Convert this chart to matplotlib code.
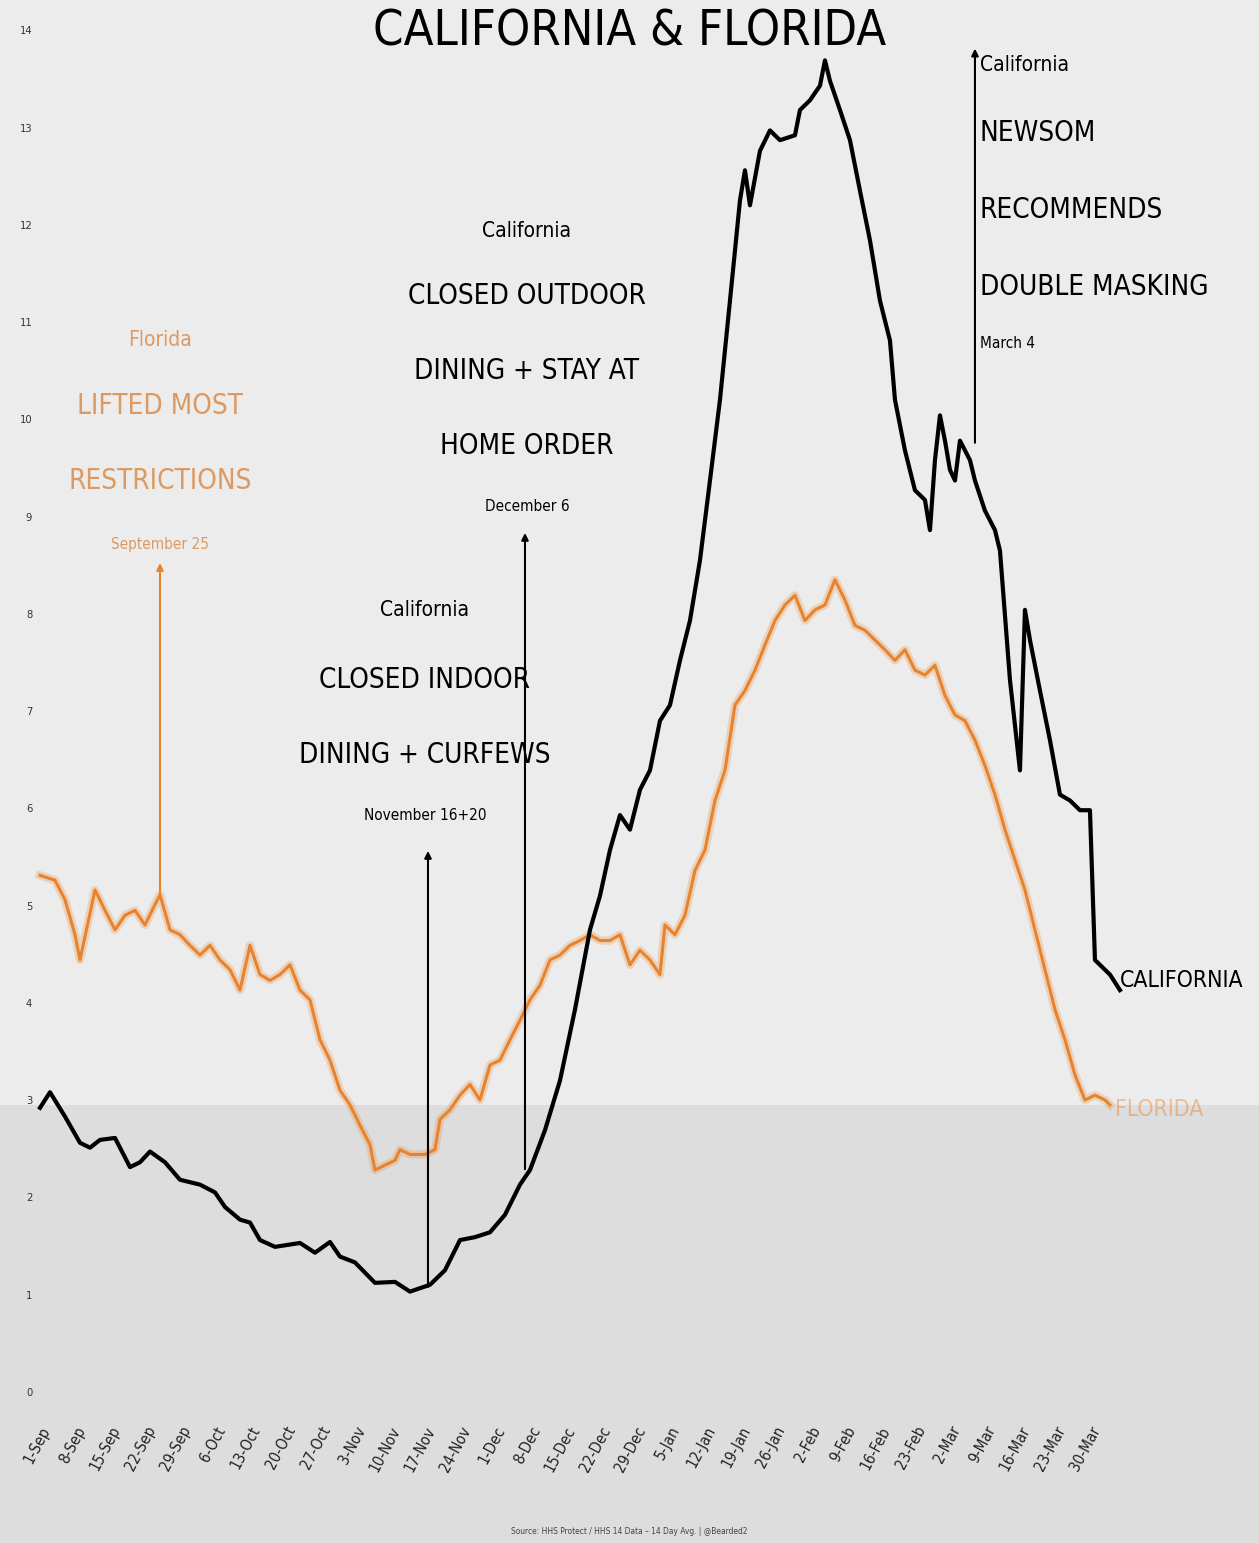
import matplotlib
matplotlib.use("Agg")
import matplotlib.pyplot as plt
from matplotlib.patches import Rectangle

# days counted from 1-Sep-2020
ca_days = [0, 2, 5, 8, 10, 12, 15, 18, 20, 22, 25, 28, 32, 35, 37, 40, 42, 44, 47, 52,
           55, 58, 60, 63, 67, 71, 74, 78, 81, 84, 87, 90, 93, 96, 98, 101, 104, 107, 110, 112,
           114, 116, 118, 120, 122, 124, 126, 128, 130, 132, 134, 136, 138, 140, 141, 142, 144, 146, 148, 151,
           152, 154, 156, 157, 158, 160, 162, 164, 166, 168, 170, 171, 173, 175, 177, 178, 179, 180, 181, 182,
           183, 184, 186, 187, 189, 191, 192, 194, 196, 197, 198, 200, 202, 204, 206, 208, 210, 211, 212, 214, 216]
ca_vals = [2.92, 3.08, 2.83, 2.56, 2.51, 2.59, 2.61, 2.31, 2.36, 2.47, 2.36, 2.18, 2.13, 2.05, 1.90, 1.77, 1.74, 1.56, 1.49, 1.53,
           1.43, 1.54, 1.39, 1.33, 1.12, 1.13, 1.03, 1.10, 1.25, 1.56, 1.59, 1.64, 1.82, 2.13, 2.28, 2.69, 3.20, 3.93, 4.75, 5.10,
           5.57, 5.93, 5.78, 6.19, 6.39, 6.90, 7.06, 7.52, 7.93, 8.55, 9.37, 10.20, 11.22, 12.25, 12.56, 12.20, 12.76, 12.97, 12.87, 12.92,
           13.18, 13.28, 13.43, 13.69, 13.48, 13.18, 12.87, 12.35, 11.84, 11.22, 10.81, 10.20, 9.68, 9.27, 9.17, 8.86, 9.58, 10.04, 9.78, 9.48,
           9.37, 9.78, 9.58, 9.37, 9.06, 8.86, 8.65, 7.32, 6.39, 8.04, 7.73, 7.21, 6.70, 6.14, 6.08, 5.98, 5.98, 4.44, 4.39, 4.29, 4.13]

fl_days = [0, 3, 5, 7, 8, 11, 13, 15, 17, 19, 21, 23, 24, 26, 28, 30, 32, 34, 36, 38,
           40, 42, 44, 46, 48, 50, 52, 54, 56, 58, 60, 62, 64, 66, 67, 69, 71, 72, 74, 77,
           79, 80, 82, 84, 86, 88, 90, 92, 94, 96, 98, 100, 102, 104, 106, 108, 110, 112, 114, 116,
           118, 120, 122, 124, 125, 127, 129, 131, 133, 135, 137, 139, 141, 143, 145, 147, 149, 151, 153, 155,
           157, 159, 161, 163, 165, 167, 169, 171, 173, 175, 177, 179, 181, 183, 185, 187, 189, 191, 193, 195,
           197, 199, 201, 203, 205, 207, 209, 211, 213, 214]
fl_vals = [5.31, 5.26, 5.06, 4.70, 4.44, 5.16, 4.95, 4.75, 4.90, 4.95, 4.80, 5.01, 5.11, 4.75, 4.70, 4.59, 4.49, 4.59, 4.44, 4.34,
           4.13, 4.59, 4.29, 4.23, 4.29, 4.39, 4.13, 4.03, 3.62, 3.41, 3.10, 2.95, 2.74, 2.54, 2.28, 2.33, 2.38, 2.49, 2.44, 2.44,
           2.49, 2.80, 2.90, 3.05, 3.16, 3.00, 3.36, 3.41, 3.62, 3.82, 4.03, 4.18, 4.44, 4.49, 4.59, 4.64, 4.70, 4.64, 4.64, 4.70,
           4.39, 4.54, 4.44, 4.29, 4.80, 4.70, 4.90, 5.36, 5.57, 6.08, 6.39, 7.06, 7.21, 7.42, 7.68, 7.93, 8.09, 8.19, 7.93, 8.04,
           8.09, 8.35, 8.14, 7.88, 7.83, 7.73, 7.63, 7.52, 7.63, 7.42, 7.37, 7.47, 7.16, 6.96, 6.90, 6.70, 6.44, 6.14, 5.78, 5.47,
           5.16, 4.75, 4.34, 3.93, 3.62, 3.26, 3.00, 3.05, 3.00, 2.95]

tick_labels = ["1-Sep", "8-Sep", "15-Sep", "22-Sep", "29-Sep", "6-Oct", "13-Oct", "20-Oct", "27-Oct",
               "3-Nov", "10-Nov", "17-Nov", "24-Nov", "1-Dec", "8-Dec", "15-Dec", "22-Dec", "29-Dec",
               "5-Jan", "12-Jan", "19-Jan", "26-Jan", "2-Feb", "9-Feb", "16-Feb", "23-Feb",
               "2-Mar", "9-Mar", "16-Mar", "23-Mar", "30-Mar"]
tick_days = [7 * i for i in range(len(tick_labels))]

ORANGE = "#e8832c"
plt.rcParams["font.family"] = ["DejaVu Sans"]
plt.rcParams["font.stretch"] = "condensed"

fig = plt.figure(figsize=(12.59, 15.43), dpi=100)
fig.patch.set_facecolor("#ececec")
# darker band at the bottom of the picture
fig.add_artist(Rectangle((0, 0), 1, 0.284, transform=fig.transFigure,
                         facecolor="#dddddd", edgecolor="none", zorder=-5))

ax = fig.add_axes([0.0278, 0.0791, 0.8697, 0.9202])
ax.set_facecolor("none")
ax.set_xlim(-1, 218)
ax.set_ylim(-0.3, 14.3)
for s in ax.spines.values():
    s.set_visible(False)

ax.set_yticks(range(0, 15))
ax.set_yticklabels([str(i) for i in range(0, 15)], fontsize=8, color="#333333")
ax.set_xticks(tick_days)
ax.set_xticklabels(tick_labels, rotation=62, ha="right", va="top", rotation_mode="anchor",
                   fontsize=11, color="#222222")
ax.tick_params(length=0, pad=2)

# lines
ax.plot(fl_days, fl_vals, color=ORANGE, lw=6, alpha=0.25, solid_joinstyle="round")
ax.plot(fl_days, fl_vals, color=ORANGE, lw=2.2, solid_joinstyle="round")
ax.plot(ca_days, ca_vals, color="black", lw=3.0, solid_joinstyle="round")

# annotation arrows
arrow = dict(arrowstyle="-|>", lw=1.5, mutation_scale=10)
ax.annotate("", xy=(24, 8.55), xytext=(24, 5.1), arrowprops=dict(arrow, color=ORANGE))
ax.annotate("", xy=(77.6, 5.59), xytext=(77.6, 1.05), arrowprops=dict(arrow, color="black"))
ax.annotate("", xy=(97, 8.86), xytext=(97, 2.26), arrowprops=dict(arrow, color="black"))
ax.annotate("", xy=(187, 13.84), xytext=(187, 9.73), arrowprops=dict(arrow, color="black"))

# Florida note
fl_col = "#dc9a62"
ax.text(24, 10.81, "Florida", ha="center", va="center", fontsize=15, color=fl_col)
ax.text(24, 10.14, "LIFTED MOST", ha="center", va="center", fontsize=20, color=fl_col)
ax.text(24, 9.37, "RESTRICTIONS", ha="center", va="center", fontsize=20, color=fl_col)
ax.text(24, 8.71, "September 25", ha="center", va="center", fontsize=11, color=fl_col)

# November note
ax.text(77, 8.04, "California", ha="center", va="center", fontsize=15)
ax.text(77, 7.32, "CLOSED INDOOR", ha="center", va="center", fontsize=20)
ax.text(77, 6.55, "DINING + CURFEWS", ha="center", va="center", fontsize=20)
ax.text(77, 5.93, "November 16+20", ha="center", va="center", fontsize=11)

# December note
ax.text(97.4, 11.94, "California", ha="center", va="center", fontsize=15)
ax.text(97.4, 11.27, "CLOSED OUTDOOR", ha="center", va="center", fontsize=20)
ax.text(97.4, 10.50, "DINING + STAY AT", ha="center", va="center", fontsize=20)
ax.text(97.4, 9.73, "HOME ORDER", ha="center", va="center", fontsize=20)
ax.text(97.4, 9.10, "December 6", ha="center", va="center", fontsize=11)

# March note
ax.text(188, 13.64, "California", ha="left", va="center", fontsize=15)
ax.text(188, 12.94, "NEWSOM", ha="left", va="center", fontsize=20)
ax.text(188, 12.15, "RECOMMENDS", ha="left", va="center", fontsize=20)
ax.text(188, 11.36, "DOUBLE MASKING", ha="left", va="center", fontsize=20)
ax.text(188, 10.78, "March 4", ha="left", va="center", fontsize=11)

# line labels
ax.text(216, 4.23, "CALIFORNIA", ha="left", va="center", fontsize=16.5, clip_on=False)
ax.text(215, 2.9, "FLORIDA", ha="left", va="center", fontsize=16.5, color=ORANGE,
        alpha=0.45, clip_on=False)

fig.text(0.5, (1543 - 46) / 1543, "CALIFORNIA & FLORIDA", ha="center", va="baseline",
         fontsize=35, color="black")
fig.text(0.5, (1543 - 1532) / 1543, "Source: HHS Protect / HHS 14 Data \u2013 14 Day Avg. | @Bearded2",
         ha="center", va="center", fontsize=6, color="#444444")

fig.savefig("out.png", dpi=100, facecolor=fig.get_facecolor())
